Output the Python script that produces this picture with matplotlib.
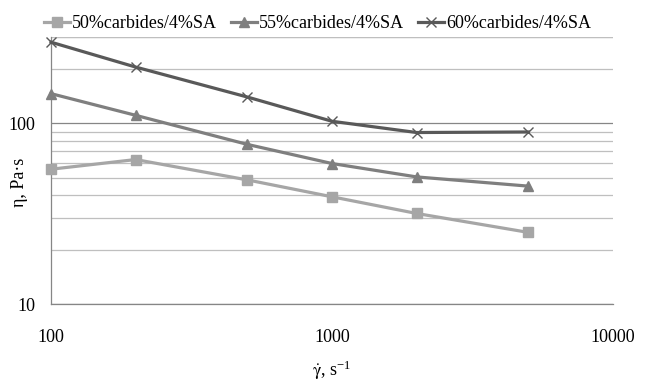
import matplotlib.pyplot as plt
from matplotlib.ticker import LogLocator, NullFormatter, FixedLocator, FixedFormatter

plt.rcParams.update({
    'font.family': ['Liberation Serif', 'DejaVu Serif'],
    'font.size': 13,
    'mathtext.fontset': 'stix',
})

# Data
shear_rate = [100, 200, 500, 1000, 2000, 5000]
visc_50 = [55.7, 63.0, 48.6, 39.2, 31.7, 24.9]
visc_55 = [145.9, 110.7, 76.4, 59.9, 50.5, 44.9]
visc_60 = [281, 204.7, 139.7, 102.6, 88.9, 89.5]
labels = ['50%carbides/4%SA', '55%carbides/4%SA', '60%carbides/4%SA']

fig = plt.figure(figsize=(6.5, 3.86), dpi=100)
fig.patch.set_facecolor('white')
ax = fig.add_axes([0.0785, 0.2124, 0.8645, 0.6916])
ax.set_facecolor('white')

ax.set_xscale('log')
ax.set_yscale('log')
ax.set_xlim(100, 10000)
ax.set_ylim(10, 300)

# horizontal gridlines only
ax.yaxis.set_major_locator(FixedLocator([10, 100]))
ax.yaxis.set_major_formatter(FixedFormatter(['10', '100']))
ax.yaxis.set_minor_locator(LogLocator(base=10, subs=range(2, 10), numticks=10))
ax.yaxis.set_minor_formatter(NullFormatter())
ax.grid(True, axis='y', which='major', color='#868686', linewidth=0.9, zorder=1)
ax.grid(True, axis='y', which='minor', color='#BFBFBF', linewidth=0.9, zorder=1)
ax.axhline(300, color='#BFBFBF', linewidth=0.9, zorder=1)

ax.xaxis.set_major_locator(FixedLocator([100, 1000, 10000]))
ax.xaxis.set_major_formatter(FixedFormatter(['100', '1000', '10000']))
ax.xaxis.set_minor_locator(FixedLocator([]))
ax.tick_params(which='both', length=0)
ax.tick_params(axis='x', pad=18, labelsize=13)
ax.tick_params(axis='y', pad=11.5, labelsize=13)

ax.plot(shear_rate, visc_50, color='#A6A6A6', linewidth=2.3, marker='s',
        markersize=6.5, label=labels[0], zorder=3, clip_on=False)
ax.plot(shear_rate, visc_55, color='#7F7F7F', linewidth=2.3, marker='^',
        markersize=7, label=labels[1], zorder=3, clip_on=False)
ax.plot(shear_rate, visc_60, color='#595959', linewidth=2.3, marker='x',
        markersize=7, markeredgewidth=1.0, label=labels[2], zorder=3, clip_on=False)

for s in ['top', 'right']:
    ax.spines[s].set_visible(False)
for s in ['left', 'bottom']:
    ax.spines[s].set_color('#868686')
    ax.spines[s].set_linewidth(0.9)

ax.set_xlabel(r'$\dot{\mathrm{\gamma}}$, s$^{\mathregular{-1}}$', fontsize=13)
ax.xaxis.set_label_coords(0.5, -0.205)
ax.set_ylabel('η, Pa·s', fontsize=13)
ax.yaxis.set_label_coords(-0.041, 0.457)

ax.legend(loc='center left', bbox_to_anchor=(-0.0125, 1.05), ncol=3, frameon=False,
          fontsize=13, handlelength=1.45, handletextpad=0.1, columnspacing=0.78,
          borderaxespad=0, borderpad=0)

fig.savefig('out.png', dpi=100, facecolor='white')
